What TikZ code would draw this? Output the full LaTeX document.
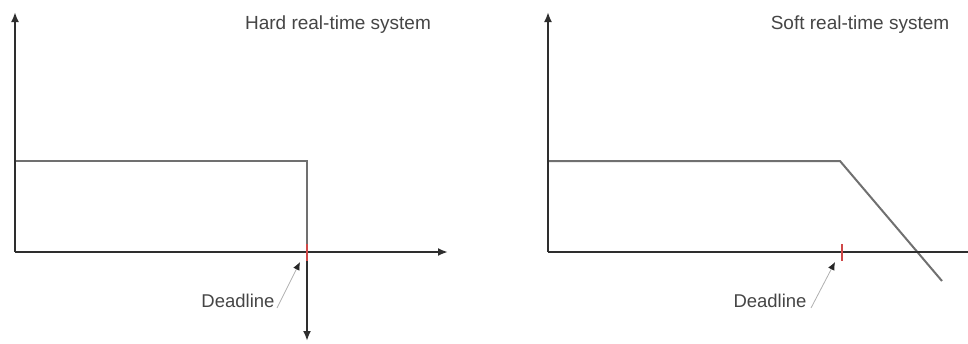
\documentclass[tikz,border=0pt]{standalone}
\usepackage{fontspec}
\setmainfont{Liberation Sans}
\usetikzlibrary{arrows.meta}
\definecolor{axisgray}{HTML}{2E2E2E}
\definecolor{stepgray}{HTML}{707070}
\definecolor{textgray}{HTML}{454545}
\definecolor{leadgray}{HTML}{B0B0B0}
\definecolor{tickred}{HTML}{D04848}
\begin{document}
\begin{tikzpicture}[x=1pt,y=-1pt,
  axis/.style={draw=axisgray,line width=2.6pt,-{Latex[length=10pt,width=8pt]}},
  curve/.style={draw=stepgray,line width=2pt},
  tick/.style={draw=tickred,line width=1.4pt},
  leader/.style={draw=leadgray,line width=0.8pt,-{Latex[length=8pt,width=7pt,fill=black!85,color=black!85]}},
  label/.style={text=textgray,font=\fontsize{18.5}{21}\selectfont,inner sep=0pt},
  title/.style={text=textgray,font=\fontsize{19}{22}\selectfont,inner sep=0pt}]
\useasboundingbox (0,0) rectangle (968,343);
\clip (0,0) rectangle (968,343);

% ---- hard real-time system ----
\coordinate (o1) at (15,252);
\coordinate (y1) at (15,12);
\coordinate (x1) at (448,252);
\coordinate (s1a) at (15,161);
\coordinate (s1b) at (307,161);
\coordinate (d1) at (307,252);
\coordinate (d1low) at (307,341);
\draw[curve] (s1a) -- (s1b) -- (d1);
\draw[axis] (d1) -- (d1low);
\draw[axis] (o1) -- (y1);
\draw[axis] (o1) -- (x1);
\draw[tick] (307,244) -- (307,261);
\node[title] (t1) at (338,25) {Hard real-time system};
\node[label] (l1) at (238,301) {Deadline};
\coordinate (l1end) at (277,308);
\coordinate (l1tip) at (300,262);
\draw[leader] (l1end) -- (l1tip);

% ---- soft real-time system ----
\coordinate (o2) at (548,252);
\coordinate (y2) at (548,12);
\coordinate (x2) at (990,252);
\coordinate (s2a) at (548,161);
\coordinate (s2b) at (840,161);
\coordinate (s2c) at (942,281);
\draw[curve] (s2a) -- (s2b) -- (s2c);
\draw[axis] (o2) -- (y2);
\draw[axis] (o2) -- (x2);
\draw[tick] (842,244) -- (842,261);
\node[title] (t2) at (860,25) {Soft real-time system};
\node[label] (l2) at (770,301) {Deadline};
\coordinate (l2end) at (811,308);
\coordinate (l2tip) at (835,262);
\draw[leader] (l2end) -- (l2tip);
\end{tikzpicture}
\end{document}
